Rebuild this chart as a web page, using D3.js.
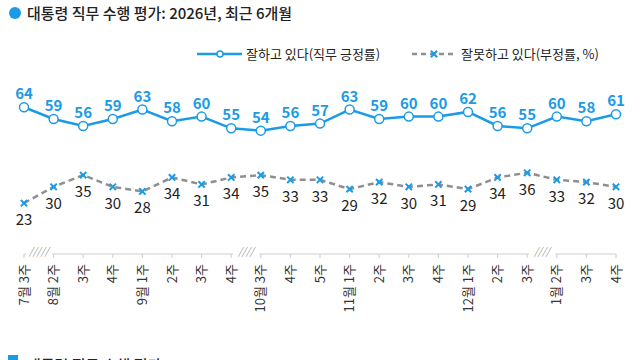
<!DOCTYPE html>
<html><head><meta charset="utf-8">
<script src="https://cdn.jsdelivr.net/npm/d3@7/dist/d3.min.js"></script>
<style>
html,body{margin:0;padding:0;background:#fff;overflow:hidden}
svg{display:block;font-family:"Noto Sans CJK KR","Noto Sans",sans-serif}
</style></head>
<body>
<svg id="c" width="640" height="360"></svg>
<script>
const categories = ["7월 3주","8월 2주","3주","4주","9월 1주","2주","3주","4주","10월 3주","4주","5주","11월 1주","2주","3주","4주","12월 1주","2주","3주","1월 2주","3주","4주"];
const approve = [64,59,56,59,63,58,60,55,54,56,57,63,59,60,60,62,56,55,60,58,61];
const disapprove = [23,30,35,30,28,34,31,34,35,33,33,29,32,30,31,29,34,36,33,32,30];
const breaks = [1, 8, 18];
const breakMarks = ["/////", "////", "////"];
const title = "대통령 직무 수행 평가: 2026년, 최근 6개월";
const title2 = "대통령 직무 수행 평가: 2025~2026";
const legendLabels = ["잘하고 있다(직무 긍정률)", "잘못하고 있다(부정률, %)"];

const blue = "#1b9be6", gray = "#8f8f8f";
const svg = d3.select("#c");

const x = d3.scalePoint().domain(d3.range(categories.length)).range([24, 616]);
const y = d3.scaleLinear().domain([0, 100]).range([257, 23]);

// title
svg.append("circle").attr("cx", 15).attr("cy", 13).attr("r", 6).attr("fill", blue);
svg.append("text").attr("x", 27).attr("y", 19).attr("font-size", 15).attr("fill", "#222").attr("font-weight", 500).text(title);

// legend
const lg = svg.append("g");
lg.append("line").attr("x1", 197).attr("x2", 242).attr("y1", 54).attr("y2", 54).attr("stroke", blue).attr("stroke-width", 2.5);
lg.append("circle").attr("cx", 220).attr("cy", 54).attr("r", 3).attr("fill", "#fff").attr("stroke", blue).attr("stroke-width", 1.5);
lg.append("text").attr("x", 246).attr("y", 59).attr("font-size", 13).attr("fill", "#222").text(legendLabels[0]);
lg.append("line").attr("x1", 412).attr("x2", 456).attr("y1", 54).attr("y2", 54).attr("stroke", gray).attr("stroke-width", 2.5).attr("stroke-dasharray", "5,4");
lg.append("path").attr("d", d3.symbol(d3.symbolX, 28)()).attr("transform", "translate(434,54)").attr("stroke", blue).attr("stroke-width", 2).attr("fill", "none");
lg.append("text").attr("x", 461).attr("y", 59).attr("font-size", 13).attr("fill", "#222").text(legendLabels[1]);

// axis
const axisY = 254;
const ax = svg.append("g");
ax.append("line").attr("x1", x(0)).attr("x2", x(categories.length - 1)).attr("y1", axisY).attr("y2", axisY).attr("stroke", "#cfcfcf").attr("stroke-width", 1);
categories.forEach((c, i) => {
  ax.append("line").attr("x1", x(i)).attr("x2", x(i)).attr("y1", axisY).attr("y2", axisY + 4).attr("stroke", "#cfcfcf");
  ax.append("text").attr("transform", `translate(${x(i) - 1},${axisY + 10}) rotate(-90)`)
    .attr("text-anchor", "end").attr("dominant-baseline", "central").attr("font-size", 13).attr("fill", "#333").text(c);
});
breaks.forEach((b, k) => {
  const mx = (x(b - 1) + x(b)) / 2;
  ax.append("rect").attr("x", mx - 13).attr("y", axisY - 1).attr("width", 26).attr("height", 2).attr("fill", "#fff");
  ax.append("text").attr("x", mx).attr("y", axisY + 1).attr("text-anchor", "middle").attr("font-size", 10).attr("font-style", "italic").attr("fill", "#999").text(breakMarks[k]);
});

// disapprove line
svg.append("path").datum(disapprove)
  .attr("d", d3.line().x((d, i) => x(i)).y(d => y(d)))
  .attr("fill", "none").attr("stroke", gray).attr("stroke-width", 2.5).attr("stroke-dasharray", "6,4");
svg.selectAll(".xm").data(disapprove).join("path")
  .attr("d", d3.symbol(d3.symbolX, 28)())
  .attr("transform", (d, i) => `translate(${x(i)},${y(d)})`)
  .attr("stroke", blue).attr("stroke-width", 2).attr("fill", "none");
svg.selectAll(".dl").data(disapprove).join("text")
  .attr("x", (d, i) => x(i)).attr("y", d => y(d) + 22)
  .attr("text-anchor", "middle").attr("font-size", 15).attr("fill", "#222").text(d => d);

// approve line
svg.append("path").datum(approve)
  .attr("d", d3.line().x((d, i) => x(i)).y(d => y(d)))
  .attr("fill", "none").attr("stroke", blue).attr("stroke-width", 2.5);
svg.selectAll(".am").data(approve).join("circle")
  .attr("cx", (d, i) => x(i)).attr("cy", d => y(d)).attr("r", 4.5)
  .attr("fill", "#fff").attr("stroke", blue).attr("stroke-width", 1.5);
svg.selectAll(".al").data(approve).join("text")
  .attr("x", (d, i) => x(i)).attr("y", d => y(d) - 8)
  .attr("text-anchor", "middle").attr("font-size", 15).attr("font-weight", 600).attr("fill", blue).text(d => d);

// partially visible second title at bottom (cut off as in the reference)
svg.append("rect").attr("x", 8).attr("y", 355).attr("width", 10).attr("height", 10).attr("fill", blue);
svg.append("text").attr("x", 27).attr("y", 371).attr("font-size", 15).attr("fill", "#222").attr("font-weight", 500).text(title2);
</script>
</body></html>
